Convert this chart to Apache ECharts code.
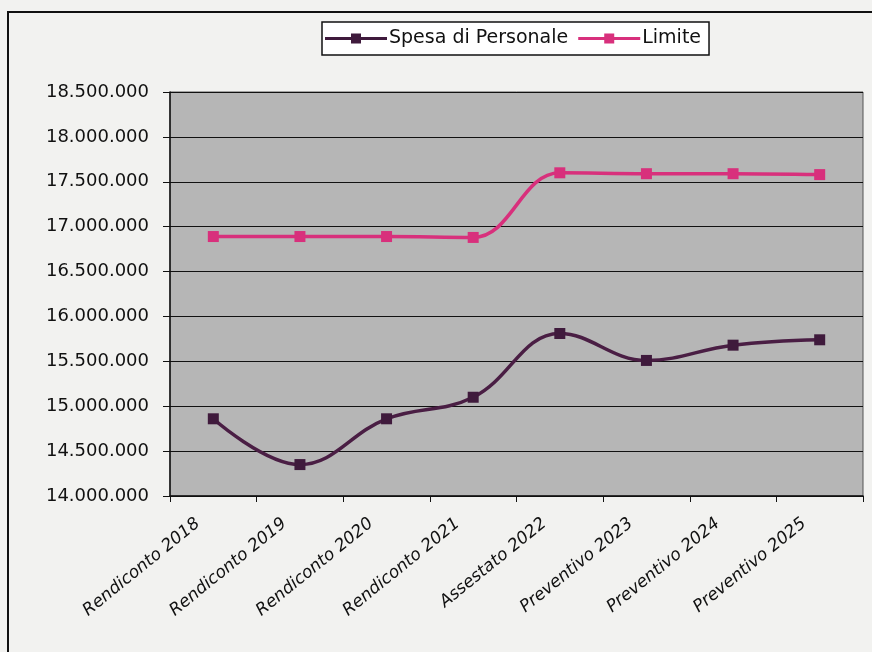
<!DOCTYPE html>
<html lang="it" style="height: 100%">
<head>
  <meta charset="utf-8">
</head>
<body style="height: 100%; margin: 0; background: #f2f2f0">
  <div id="container" style="width: 872px; height: 652px"></div>

  <script type="text/javascript" src="https://cdn.jsdelivr.net/npm/echarts@6/dist/echarts.min.js"></script>
  <script type="text/javascript">
    // data
    const categories = [
      'Rendiconto 2018', 'Rendiconto 2019', 'Rendiconto 2020', 'Rendiconto 2021',
      'Assestato 2022', 'Preventivo 2023', 'Preventivo 2024', 'Preventivo 2025'
    ];
    const spesaPersonale = [14860000, 14350000, 14860000, 15100000, 15810000, 15510000, 15680000, 15740000];
    const limite = [16890000, 16890000, 16890000, 16880000, 17600000, 17590000, 17590000, 17580000];

    const dom = document.getElementById('container');
    const myChart = echarts.init(dom, null, { renderer: 'canvas' });

    function fmt(n) {
      return String(Math.round(n)).replace(/\B(?=(\d{3})+(?!\d))/g, '.');
    }

    // line with a square in the middle, like the Excel legend key
    const keyIcon = 'path://M0,3.5 L26,3.5 L26,0 L36,0 L36,3.5 L62,3.5 L62,6.5 L36,6.5 L36,10 L26,10 L26,6.5 L0,6.5 Z';

    const option = {
      backgroundColor: '#f2f2f0',
      textStyle: { fontFamily: 'DejaVu Sans, sans-serif', color: '#111' },
      graphic: {
        elements: [
          {
            type: 'polyline',
            shape: { points: [[8, 652], [8, 12], [872, 12]] },
            style: { stroke: '#111', lineWidth: 2, fill: null },
            silent: true
          }
        ]
      },
      legend: {
        top: 22,
        left: 322,
        itemWidth: 62,
        itemHeight: 10,
        itemGap: 10,
        padding: [7, 8, 7, 3],
        borderColor: '#111',
        borderWidth: 1.5,
        backgroundColor: '#fff',
        textStyle: { fontSize: 19, color: '#111', padding: [0, 0, 0, -3] },
        data: [
          { name: 'Spesa di Personale', icon: keyIcon },
          { name: 'Limite', icon: keyIcon }
        ]
      },
      grid: {
        left: 170,
        right: 9,
        top: 92,
        bottom: 156,
        show: true,
        backgroundColor: '#b6b6b6',
        borderColor: '#555',
        borderWidth: 1
      },
      xAxis: {
        type: 'category',
        data: categories,
        boundaryGap: true,
        axisLine: { lineStyle: { color: '#111', width: 1.5 } },
        axisTick: { show: true, length: 6, inside: false, lineStyle: { color: '#111' } },
        axisLabel: {
          rotate: 39,
          interval: 0,
          fontSize: 17,
          fontStyle: 'italic',
          color: '#111',
          margin: 13,
          padding: [0, 20, 0, 0]
        }
      },
      yAxis: {
        type: 'value',
        min: 14000000,
        max: 18500000,
        interval: 500000,
        axisLine: { show: true, lineStyle: { color: '#111', width: 1.5 } },
        axisTick: { show: true, length: 7, lineStyle: { color: '#111' } },
        axisLabel: {
          fontSize: 18,
          color: '#111',
          margin: 21,
          formatter: fmt
        },
        splitLine: { lineStyle: { color: '#111', width: 1.2 } }
      },
      series: [
        {
          name: 'Spesa di Personale',
          type: 'line',
          data: spesaPersonale,
          smooth: 0.4,
          symbol: 'rect',
          symbolSize: 11,
          lineStyle: { color: '#4a1e44', width: 3.5 },
          itemStyle: { color: '#3f1a3c' }
        },
        {
          name: 'Limite',
          type: 'line',
          data: limite,
          smooth: 0.4,
          symbol: 'rect',
          symbolSize: 11,
          lineStyle: { color: '#d8307c', width: 3.5 },
          itemStyle: { color: '#d8307c' }
        }
      ],
      animation: false
    };

    myChart.setOption(option);
    window.addEventListener('resize', myChart.resize);
  </script>
</body>
</html>
